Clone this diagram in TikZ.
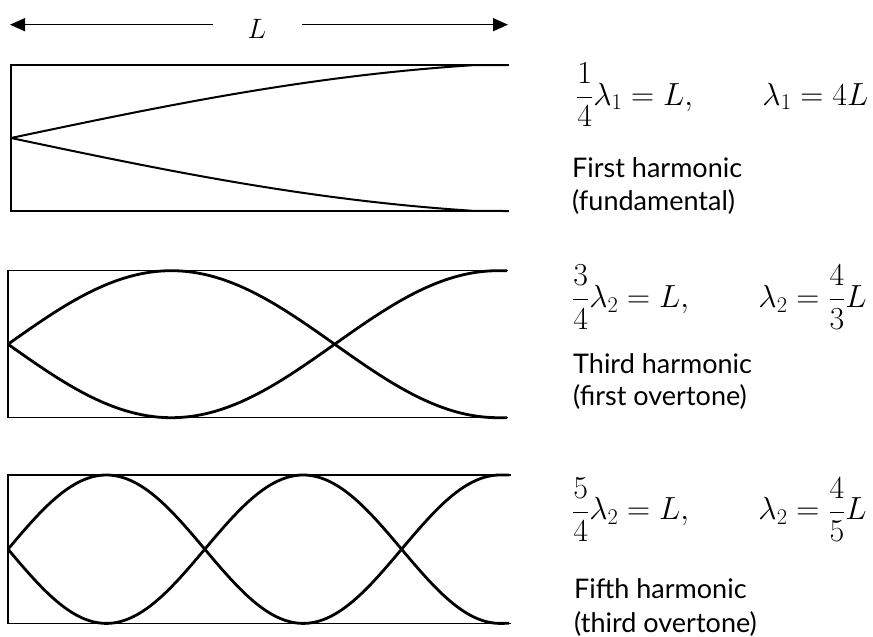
\RequirePackage{fix-cm}
\documentclass[tikz,border=0pt]{standalone}
\usepackage{fontspec}
\setsansfont{Lato}
\usetikzlibrary{arrows.meta}
\DeclareMathSizes{32}{32}{22.4}{16}
\DeclareMathSizes{28}{28}{19.6}{14}
\begin{document}
\begin{tikzpicture}[x=1pt,y=-1pt,
  boxline/.style={line width=1.5pt, line cap=rect},
  wave/.style={line width=2.8pt, line join=round},
  thinwave/.style={line width=2pt, line join=round},
  dim/.style={line width=1.4pt, -{Triangle[length=15pt,width=13pt]}},
  eq/.style={anchor=base west, inner sep=0pt, font=\fontsize{32}{38}\selectfont},
  lbl/.style={anchor=base west, inner sep=0pt, font=\sffamily\fontsize{27}{33}\selectfont},
]
\useasboundingbox (0,0) rectangle (873,637);

% dimension arrow
\node[inner sep=0pt, anchor=base, font=\fontsize{28}{32}\selectfont] (Llab) at (257,38.3) {$L$};
\coordinate (aL0) at (213,24.7);
\coordinate (aL1) at (10,24.7);
\coordinate (aR0) at (302,24.7);
\coordinate (aR1) at (508,24.7);
\draw[dim] (aL0) -- (aL1);
\draw[dim] (aR0) -- (aR1);

% box 1
\draw[boxline] (508,65) -- (11,65) -- (11,211) -- (508,211);
\draw[thinwave] plot[domain=0:1, samples=90] ({11+465*\x}, {138 - 73*(0.6*sin(90*\x)+0.4*\x)}) -- (508,65);
\draw[thinwave] plot[domain=0:1, samples=90] ({11+465*\x}, {138 + 73*(0.6*sin(90*\x)+0.4*\x)}) -- (508,211);

% box 2
\draw[boxline] (507,270.7) -- (8,270.7) -- (8,417.7) -- (507,417.7);
\draw[wave] plot[domain=0:1, samples=150] ({8+490*\x}, {344.2 - 73.5*sin(270*\x)}) -- (507,417.7);
\draw[wave] plot[domain=0:1, samples=150] ({8+490*\x}, {344.2 + 73.5*sin(270*\x)}) -- (507,270.7);

% box 3
\draw[boxline] (510,475) -- (8,475) -- (8,623.3) -- (510,623.3);
\draw[wave] plot[domain=0:1, samples=200] ({8+492*\x}, {549.2 - 74.2*sin(450*\x)}) -- (509,475);
\draw[wave] plot[domain=0:1, samples=200] ({8+492*\x}, {549.2 + 74.2*sin(450*\x)}) -- (509,623.3);

% equations
\node[eq] (eq1) at (576,105) {$\displaystyle \frac{1}{4}\lambda_1 = L,\qquad \lambda_1 = 4L$};
\node[eq] (eq2) at (572,307.3) {$\displaystyle \frac{3}{4}\lambda_2 = L,\qquad \lambda_2 = \frac{4}{3}L$};
\node[eq] (eq3) at (572,519.7) {$\displaystyle \frac{5}{4}\lambda_2 = L,\qquad \lambda_2 = \frac{4}{5}L$};

% labels
\node[lbl] (h1a) at (572,177) {First harmonic};
\node[lbl] (h1b) at (572,210) {(fundamental)};
\node[lbl] (h2a) at (573,373) {Third harmonic};
\node[lbl] (h2b) at (573,405) {(first overtone)};
\node[lbl] (h3a) at (574,598) {Fifth harmonic};
\node[lbl] (h3b) at (574,632) {(third overtone)};
\end{tikzpicture}
\end{document}
